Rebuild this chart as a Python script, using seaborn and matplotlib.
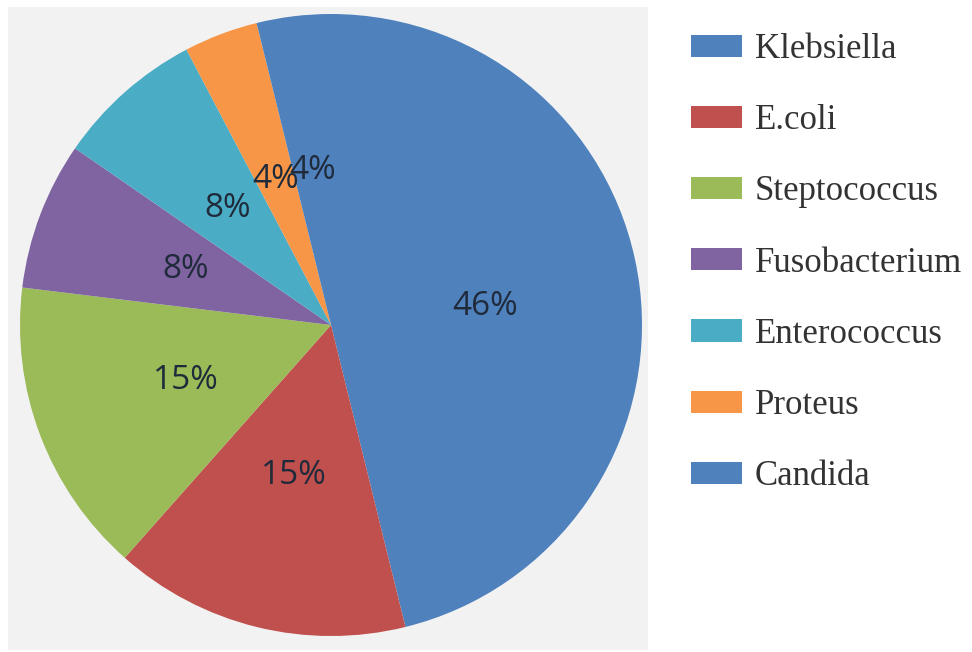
import matplotlib
matplotlib.use("Agg")
import matplotlib.pyplot as plt
from matplotlib.patches import Patch
import seaborn as sns

# Data
organisms = ["Klebsiella", "E.coli", "Steptococcus", "Fusobacterium",
             "Enterococcus", "Proteus", "Candida"]
counts = [12, 4, 4, 2, 2, 1, 1]
colors = ["#4f81bd", "#c0504d", "#9bbb59", "#8064a2",
          "#4bacc6", "#f79646", "#4f81bd"]

sns.set_theme(style="white")
plt.rcParams["font.family"] = ["DejaVu Sans"]

W, H = 972, 652
fig = plt.figure(figsize=(W / 100, H / 100), dpi=100)
fig.patch.set_facecolor("white")

# Chart area (grey panel)
ax_l, ax_t, ax_w, ax_h = 8, 7, 640, 643
ax = fig.add_axes([ax_l / W, 1 - (ax_t + ax_h) / H, ax_w / W, ax_h / H])

wedges, texts, autotexts = ax.pie(
    counts, colors=colors, startangle=90, counterclock=False,
    autopct="%1.0f%%", pctdistance=0.5, radius=1.0,
    wedgeprops=dict(linewidth=0),
    textprops=dict(fontsize=24, color="#1f2a3a",
                   family=["Open Sans", "DejaVu Sans"], fontweight="medium"),
)

# map center (331,325) px, radius 311 px
cx, cy, r = 331 - ax_l, 325 - ax_t, 311.0
ax.set_aspect("auto")
ax.set_xlim(-cx / r, (ax_w - cx) / r)
ax.set_ylim(-(ax_h - cy) / r, cy / r)
ax.set_frame_on(True)
ax.set_facecolor("#f2f2f2")
for s in ax.spines.values():
    s.set_visible(False)
ax.set_xticks([])
ax.set_yticks([])

handles = [Patch(facecolor=c, edgecolor="none") for c in colors]
fs = 25
fpx = fs * 100 / 72
leg = fig.legend(
    handles, organisms, loc="upper left",
    bbox_to_anchor=(691 / W, 1 - 33 / H), bbox_transform=fig.transFigure,
    frameon=False, prop=dict(family=["Liberation Serif"], size=fs),
    handlelength=51 / fpx, handleheight=21 / fpx, handletextpad=13 / fpx,
    labelspacing=1.10, borderpad=0, borderaxespad=0,
)
for t in leg.get_texts():
    t.set_color("#333333")

fig.savefig("out.png", dpi=100)
